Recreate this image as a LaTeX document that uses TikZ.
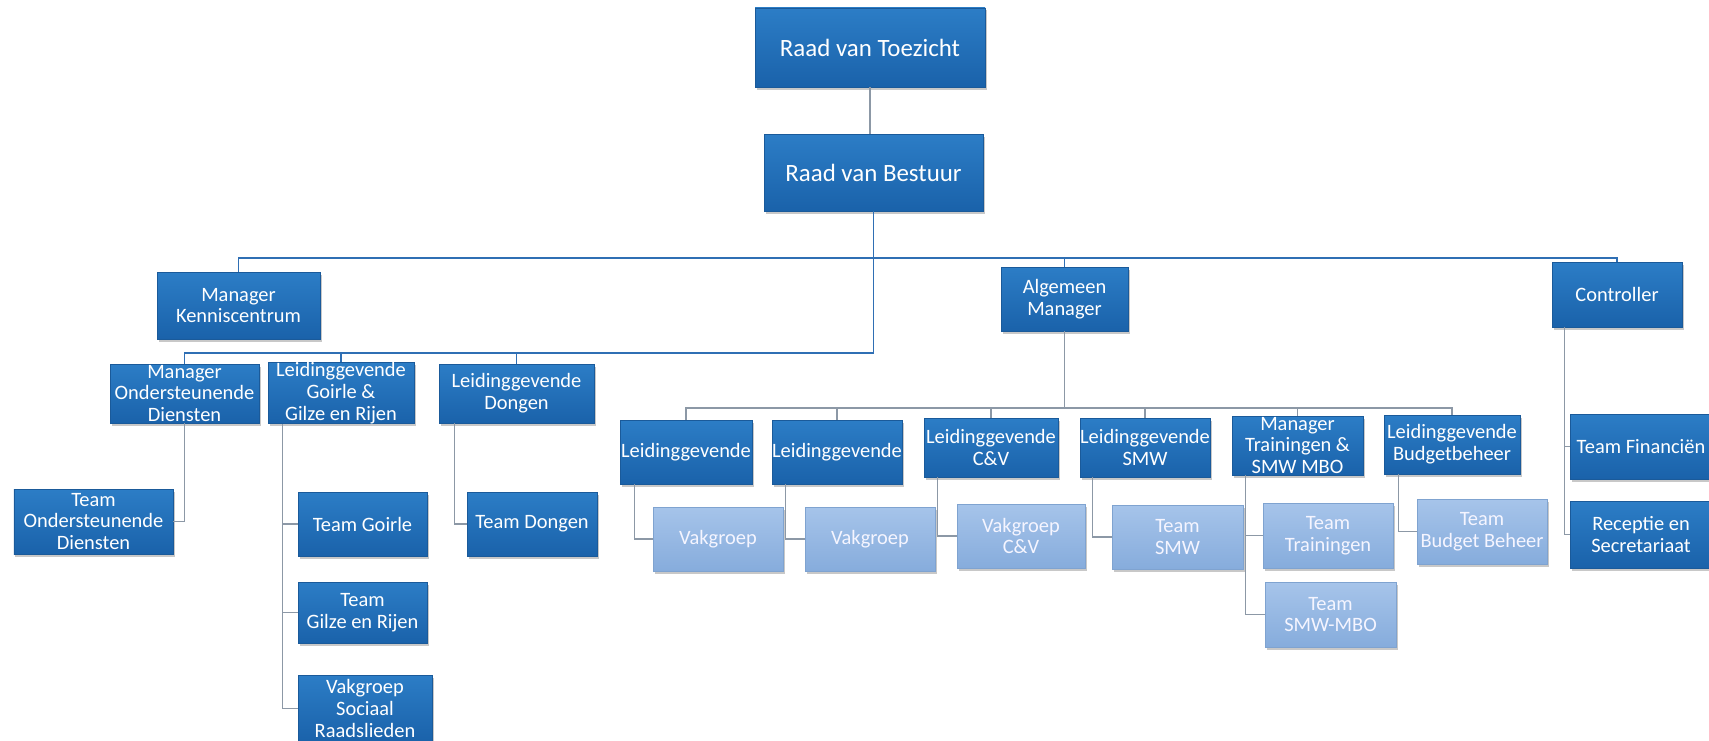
\documentclass[tikz,border=0pt]{standalone}
\usepackage{fontspec}
\setmainfont{Carlito}
\usetikzlibrary{shadows}
\definecolor{dbtop}{HTML}{2C7DC6}
\definecolor{dbbot}{HTML}{1A62AA}
\definecolor{dbedge}{HTML}{1A5A9A}
\definecolor{lbtop}{HTML}{A6C4EA}
\definecolor{lbbot}{HTML}{86ACDC}
\definecolor{lbedge}{HTML}{7FA3D0}
\definecolor{busblue}{HTML}{2F6FB4}
\definecolor{linkgray}{HTML}{8C98A6}
\begin{document}
\begin{tikzpicture}[x=1bp,y=-1bp,
  box/.style={rectangle, inner sep=0pt, align=center, text=white,
    font=\fontsize{20.5}{22}\selectfont, draw=dbedge, line width=0.6bp,
    top color=dbtop, bottom color=dbbot,
    drop shadow={shadow xshift=1.5bp, shadow yshift=-2.5bp, opacity=0.3, fill=black!70}},
  lbox/.style={box, top color=lbtop, bottom color=lbbot, draw=lbedge, text=white!96!blue},
  bigbox/.style={box, font=\fontsize{25}{28}\selectfont},
  bus/.style={draw=busblue, line width=1.7bp},
  link/.style={draw=linkgray, line width=1.2bp},
]
\clip (0,0) rectangle (1709,741);
\fill[white] (0,0) rectangle (1709,741);

% top
\node[bigbox, minimum width=230bp, minimum height=79bp] (rvt) at (870,47.5) {Raad van Toezicht};
\node[bigbox, minimum width=219bp, minimum height=77bp] (rvb) at (873.5,172.5) {Raad van Bestuur};

% level 2
\node[box, minimum width=163bp, minimum height=67bp] (mk) at (238.5,305.5) {Manager\\Kenniscentrum};
\node[box, minimum width=127bp, minimum height=64bp] (am) at (1064.5,299) {Algemeen\\Manager};
\node[box, minimum width=130bp, minimum height=65bp] (ctrl) at (1617,294.5) {Controller};

% Kenniscentrum children
\node[box, minimum width=149bp, minimum height=59bp] (mod) at (184.5,393.5) {Manager\\Ondersteunende\\Diensten};
\node[box, minimum width=146bp, minimum height=60bp] (lgg) at (341,393) {Leidinggevende\\Goirle \&\\Gilze en Rijen};
\node[box, minimum width=155bp, minimum height=59bp] (ld) at (516.5,393.5) {Leidinggevende\\Dongen};

\node[box, minimum width=159bp, minimum height=65bp] (tod) at (93.5,521.5) {Team\\Ondersteunende\\Diensten};
\node[box, minimum width=129bp, minimum height=64bp] (tg) at (362.5,524) {Team Goirle};
\node[box, minimum width=129bp, minimum height=61bp] (tgr) at (362.5,612.5) {Team\\Gilze en Rijen};
\node[box, minimum width=134bp, minimum height=67bp] (vsr) at (365,708.5) {Vakgroep\\Sociaal\\Raadslieden};
\node[box, minimum width=130bp, minimum height=64bp] (tdon) at (532,524) {Team Dongen};

% Algemeen Manager children
\node[box, minimum width=132bp, minimum height=64bp] (l1) at (686,452) {Leidinggevende};
\node[box, minimum width=130bp, minimum height=64bp] (l2) at (837,452) {Leidinggevende};
\node[box, minimum width=134bp, minimum height=59bp] (lcv) at (991,447.5) {Leidinggevende\\C\&V};
\node[box, minimum width=130bp, minimum height=59bp] (lsmw) at (1145,447.5) {Leidinggevende\\SMW};
\node[box, minimum width=131bp, minimum height=59bp] (mt) at (1297.5,445.5) {Manager\\Trainingen \&\\SMW MBO};
\node[box, minimum width=136bp, minimum height=59bp] (lb) at (1452,444.5) {Leidinggevende\\Budgetbeheer};

\node[lbox, minimum width=130bp, minimum height=64bp] (v1) at (718,539) {Vakgroep};
\node[lbox, minimum width=130bp, minimum height=64bp] (v2) at (870,539) {Vakgroep};
\node[lbox, minimum width=128bp, minimum height=64bp] (vcv) at (1021,536) {Vakgroep\\C\&V};
\node[lbox, minimum width=131bp, minimum height=64bp] (tsmw) at (1177.5,537) {Team\\SMW};
\node[lbox, minimum width=130bp, minimum height=65bp] (ttr) at (1328,535.5) {Team\\Trainingen};
\node[lbox, minimum width=131bp, minimum height=65bp] (tsm) at (1330.5,614.5) {Team\\SMW-MBO};
\node[lbox, minimum width=130bp, minimum height=65bp] (tbb) at (1482,531.5) {Team\\Budget Beheer};

% Controller children
\node[box, minimum width=142bp, minimum height=65bp] (tfin) at (1641,446.5) {Team Financiën};
\node[box, minimum width=142bp, minimum height=67bp] (rec) at (1641,534.5) {Receptie en\\Secretariaat};

% bus coordinates
\coordinate (topb) at (875,258);
\coordinate (kcb) at (875,353);
\coordinate (amb) at (1066,408);

% connectors
\draw[link] (rvt.south) -- (rvt.south |- rvb.north);
\draw[bus] (rvb.south) -- (rvb.south |- kcb);
\draw[bus] (mk.north) -- (mk.north |- topb) -- (ctrl.north |- topb) -- (ctrl.north);
\draw[bus] (am.north) -- (am.north |- topb);

\draw[bus] (mod.north) -- (mod.north |- kcb) -- (rvb.south |- kcb);
\draw[bus] (lgg.north) -- (lgg.north |- kcb);
\draw[bus] (ld.north) -- (ld.north |- kcb);

\draw[link] (mod.south) |- (tod.east);
\draw[link] ([xshift=15bp]lgg.south west) |- (tg.west);
\draw[link] ([xshift=15bp]lgg.south west) |- (tgr.west);
\draw[link] ([xshift=15bp]lgg.south west) |- (vsr.west);
\draw[link] ([xshift=16bp]ld.south west) |- (tdon.west);

\draw[link] (am.south) -- (am.south |- amb);
\draw[link] (l1.north) -- (l1.north |- amb) -- (lb.north |- amb) -- (lb.north);
\draw[link] (l2.north) -- (l2.north |- amb);
\draw[link] (lcv.north) -- (lcv.north |- amb);
\draw[link] (lsmw.north) -- (lsmw.north |- amb);
\draw[link] (mt.north) -- (mt.north |- amb);

\draw[link] ([xshift=15bp]l1.south west) |- (v1.west);
\draw[link] ([xshift=14bp]l2.south west) |- (v2.west);
\draw[link] ([xshift=14bp]lcv.south west) |- (vcv.west);
\draw[link] ([xshift=13bp]lsmw.south west) |- (tsmw.west);
\draw[link] ([xshift=14bp]mt.south west) |- (ttr.west);
\draw[link] ([xshift=14bp]mt.south west) |- (tsm.west);
\draw[link] ([xshift=15bp]lb.south west) |- (tbb.west);

\draw[link] ([xshift=13bp]ctrl.south west) |- (tfin.west);
\draw[link] ([xshift=13bp]ctrl.south west) |- (rec.west);
\end{tikzpicture}
\end{document}
